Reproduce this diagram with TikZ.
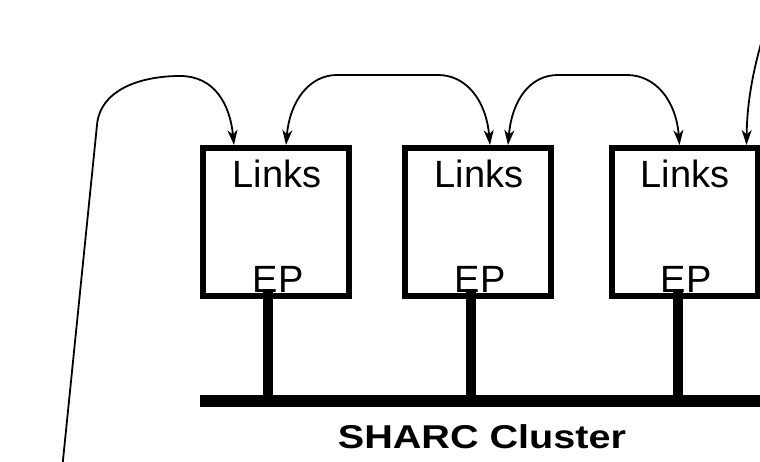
\documentclass[tikz,border=0pt]{standalone}
\usepackage{fontspec}
\setmainfont{Liberation Sans}
\usetikzlibrary{arrows.meta}
\begin{document}
\begin{tikzpicture}[x=1pt,y=-1pt,
		>={Stealth[length=15pt,width=10pt,inset=4.5pt]},
		board/.style={draw,line width=6pt,minimum width=146pt,minimum height=148pt,inner sep=0pt},
		txt/.style={font=\fontsize{38}{38}\selectfont,inner sep=0pt,anchor=base},
		link/.style={line width=1.8pt},
		stem/.style={line width=10pt}]
		\useasboundingbox (0,0) rectangle (760,462);
		\node[board] (b1) at (276,222) {};
		\node[board] (b2) at (478,222) {};
		\node[board] (b3) at (684.5,222) {};
		\node[txt] (l1) at (277,188) {Links};
		\node[txt] (l2) at (479,188) {Links};
		\node[txt] (l3) at (685,188) {Links};
		\node[txt] (e1) at (278,293) {EP};
		\node[txt] (e2) at (480,293) {EP};
		\node[txt] (e3) at (686,293) {EP};
		% bus
		\coordinate (busL) at (200,401);
		\coordinate (busR) at (760,401);
		\draw[line width=12pt] (busL) -- (busR);
		\draw[stem] ([xshift=-8pt,yshift=10pt]b1.south) -- ([xshift=-8pt]b1.south |- busL);
		\draw[stem] ([xshift=-7pt,yshift=10pt]b2.south) -- ([xshift=-7pt]b2.south |- busL);
		\draw[stem] ([xshift=-7pt,yshift=10pt]b3.south) -- ([xshift=-7pt]b3.south |- busL);
		\node[font=\bfseries\fontsize{33}{33}\selectfont,inner sep=0pt,anchor=base,xscale=1.2]
			(bus) at (482,448) {SHARC Cluster};
		% links
		\coordinate (inA) at (62,470);
		\coordinate (inB) at (762,40);
		\draw[link,->] (inA) -- (97,125) .. controls (100,90) and (140,76) .. (180,76)
			.. controls (215,76) and (230,105) .. ([xshift=-42pt]b1.north);
		\draw[link,<->] ([xshift=10pt]b1.north) .. controls (290,100) and (310,75) .. (337,75)
			-- (438,75) .. controls (466,75) and (486,100) .. ([xshift=12pt]b2.north);
		\draw[link,<->] ([xshift=30pt]b2.north) .. controls (512,100) and (530,75) .. (558,75)
			-- (627,75) .. controls (655,75) and (676,100) .. ([xshift=-5pt]b3.north);
		\draw[link,->] (inB) .. controls (752,75) and (747,105) .. ([xshift=62pt]b3.north);
	\end{tikzpicture}
\end{document}
